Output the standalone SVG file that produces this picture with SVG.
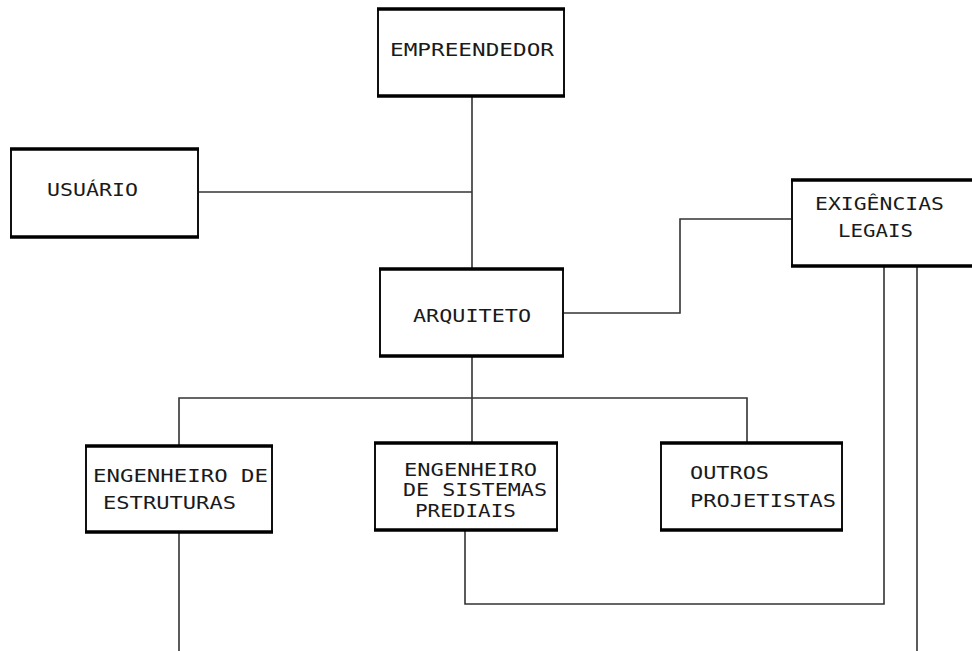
<svg xmlns="http://www.w3.org/2000/svg" width="972" height="651" viewBox="0 0 972 651">
<style>
.bg{fill:#fff}
.box{fill:#fff;stroke:#111;stroke-width:2}
.edge{fill:none;stroke:#000;stroke-width:3.5}
.con{fill:none;stroke:#333;stroke-width:1.6}
text{font-family:"DejaVu Sans Mono","Liberation Mono",monospace;font-size:18.5px;fill:#1a1a1a}
</style>
<rect class="bg" width="972" height="651"/>
<g id="connectors">
<path class="con" d="M472,96V269"/>
<path class="con" d="M198,192H472"/>
<path class="con" d="M563,313H680V219H792"/>
<path class="con" d="M472,356V442"/>
<path class="con" d="M179,446V398H747V443"/>
<path class="con" d="M179,532V651"/>
<path class="con" d="M465,530V604H884V266"/>
<path class="con" d="M917,266V651"/>
</g>
<g id="empreendedor">
<rect class="box" x="378" y="9" width="186" height="87"/>
<path class="edge" d="M377,9H565M377,96H565"/>
<text x="390" y="56" textLength="164" lengthAdjust="spacingAndGlyphs">EMPREENDEDOR</text>
</g>
<g id="usuario">
<rect class="box" x="11" y="149" width="187" height="88"/>
<path class="edge" d="M10,149H199M10,237H199"/>
<text x="47" y="196" textLength="91" lengthAdjust="spacingAndGlyphs">USUÁRIO</text>
</g>
<g id="exigencias">
<rect class="box" x="792" y="180" width="200" height="86"/>
<path class="edge" d="M791,180H972M791,266H972"/>
<text x="815" y="210" textLength="129" lengthAdjust="spacingAndGlyphs">EXIGÊNCIAS</text>
<text x="838" y="237" textLength="75" lengthAdjust="spacingAndGlyphs">LEGAIS</text>
</g>
<g id="arquiteto">
<rect class="box" x="380" y="269" width="183" height="87"/>
<path class="edge" d="M379,269H564M379,356H564"/>
<text x="413" y="322" textLength="118" lengthAdjust="spacingAndGlyphs">ARQUITETO</text>
</g>
<g id="eng-estruturas">
<rect class="box" x="86" y="446" width="186" height="86"/>
<path class="edge" d="M85,446H273M85,532H273"/>
<text x="93" y="482" textLength="175" lengthAdjust="spacingAndGlyphs">ENGENHEIRO DE</text>
<text x="103" y="509" textLength="133" lengthAdjust="spacingAndGlyphs">ESTRUTURAS</text>
</g>
<g id="eng-sistemas">
<rect class="box" x="375" y="443" width="182" height="87"/>
<path class="edge" d="M374,443H558M374,530H558"/>
<text x="404" y="476" textLength="133" lengthAdjust="spacingAndGlyphs">ENGENHEIRO</text>
<text x="403" y="496" textLength="144" lengthAdjust="spacingAndGlyphs">DE SISTEMAS</text>
<text x="415" y="517" textLength="101" lengthAdjust="spacingAndGlyphs">PREDIAIS</text>
</g>
<g id="outros">
<rect class="box" x="661" y="443" width="181" height="87"/>
<path class="edge" d="M660,443H843M660,530H843"/>
<text x="690" y="479" textLength="79" lengthAdjust="spacingAndGlyphs">OUTROS</text>
<text x="690" y="507" textLength="146" lengthAdjust="spacingAndGlyphs">PROJETISTAS</text>
</g>
</svg>
